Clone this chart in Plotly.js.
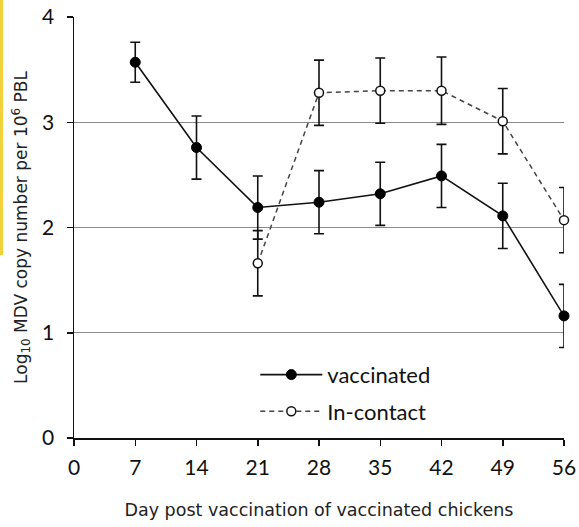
<!DOCTYPE html>
<html><head><meta charset="utf-8">
<script src="https://cdn.plot.ly/plotly-3.0.1.min.js"></script>
<style>html,body{margin:0;padding:0;background:#fff;}#stripe{position:absolute;left:0;top:0;width:3px;height:255px;background:#f2d23a;z-index:10;}</style>
</head><body>
<div id="stripe"></div>
<div id="chart" style="width:579px;height:527px;"></div>
<script>
const days = [7, 14, 21, 28, 35, 42, 49, 56];
const vaccinated = [3.57, 2.76, 2.19, 2.24, 2.32, 2.49, 2.11, 1.16];
const vaccinatedErr = [0.19, 0.3, 0.3, 0.3, 0.3, 0.3, 0.31, 0.3];
const contactDays = [21, 28, 35, 42, 49, 56];
const inContact = [1.66, 3.28, 3.30, 3.30, 3.01, 2.07];
const inContactErr = [0.31, 0.31, 0.31, 0.32, 0.31, 0.31];
const xTicks = [0, 7, 14, 21, 28, 35, 42, 49, 56];
const yTicks = [0, 1, 2, 3, 4];

const tickFont = {family: 'Lato, "Open Sans", sans-serif', size: 21, color: '#111'};

const traces = [
  {
    x: days, y: vaccinated, name: 'vaccinated', type: 'scatter', mode: 'lines+markers',
    legendgroup: 'a', cliponaxis: false,
    line: {color: '#111', width: 1.6},
    marker: {color: '#000', size: 10, line: {color: '#000', width: 1}},
    error_y: {type: 'data', array: vaccinatedErr, visible: true, color: '#111', thickness: 1.6, width: 5}
  },
  {
    x: contactDays, y: inContact, name: 'In-contact', type: 'scatter', mode: 'lines+markers',
    legendgroup: 'b', cliponaxis: false,
    line: {color: '#444', width: 1.5, dash: '5px,4px'},
    marker: {color: '#fff', size: 9, line: {color: '#111', width: 1.5}},
    error_y: {type: 'data', array: inContactErr, visible: true, color: '#111', thickness: 1.6, width: 5}
  }
];

const layout = {
  width: 579, height: 527,
  margin: {l: 74, r: 15, t: 17, b: 89},
  paper_bgcolor: '#fff', plot_bgcolor: '#fff',
  showlegend: true,
  legend: {
    x: 0.37, y: 0.2, xanchor: 'left', yanchor: 'top',
    font: {family: 'Lato, "Open Sans", sans-serif', size: 22, color: '#111'},
    bgcolor: 'rgba(0,0,0,0)', itemwidth: 62, tracegroupgap: 5
  },
  xaxis: {
    range: [0, 56], tickvals: xTicks, ticktext: xTicks.map(String),
    showgrid: false, zeroline: false, showline: true, linecolor: '#111', linewidth: 1.5,
    ticks: 'outside', ticklen: 6, tickcolor: '#111', tickwidth: 1.5,
    tickfont: tickFont, ticklabelstandoff: 4,
    title: {text: 'Day post vaccination of vaccinated chickens', font: {family: '"DejaVu Sans", Verdana, sans-serif', size: 17.5, color: '#222'}, standoff: 26}
  },
  yaxis: {
    range: [0, 4], tickvals: yTicks, ticktext: yTicks.map(String),
    showgrid: true, gridcolor: '#8a8a8a', gridwidth: 1,
    zeroline: false, showline: true, linecolor: '#111', linewidth: 1.5,
    ticks: 'outside', ticklen: 6, tickcolor: '#111', tickwidth: 1.5,
    tickfont: tickFont, ticklabelstandoff: 8,
    title: {text: 'Log<sub>10</sub> MDV copy number per 10<sup>6</sup> PBL', font: {family: '"DejaVu Sans", Verdana, sans-serif', size: 17, color: '#222'}, standoff: 10}
  }
};

Plotly.newPlot('chart', traces, layout, {displayModeBar: false, staticPlot: true});
</script>
</body></html>
